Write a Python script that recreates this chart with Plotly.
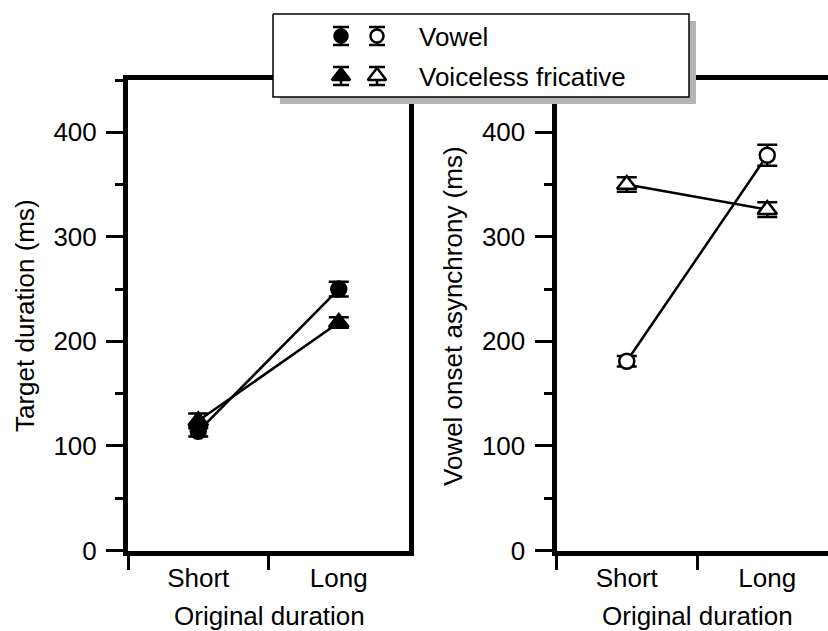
import plotly.graph_objects as go

# ---------------- data ----------------
categories = ["Short", "Long"]
vowel_dur = [114, 250]
vowel_dur_err = [5, 7]
fric_dur = [124, 218]
fric_dur_err = [7, 5]
vowel_async = [181, 378]
vowel_async_err = [5, 10]
fric_async = [350, 326]
fric_async_err = [7, 7]
y_ticks = [0, 100, 200, 300, 400]
legend_labels = ["Vowel", "Voiceless fricative"]
x_title = "Original duration"
y_title_left = "Target duration (ms)"
y_title_right = "Vowel onset asynchrony (ms)"

# ---------------- layout constants (pixels) ----------------
W, H = 828, 631
FONT = "Liberation Sans, Arial, sans-serif"
FS = 26


def fx(p):
    return p / W


def fy(p):
    return 1 - p / H


fig = go.Figure()


def add_series(xa, ya, y, err, symbol, size, filled):
    fig.add_trace(go.Scatter(
        x=categories, y=y, xaxis=xa, yaxis=ya, mode="lines+markers",
        line=dict(color="black", width=2.5),
        marker=dict(symbol=symbol, size=size,
                    color="black" if filled else "white",
                    line=dict(color="black", width=2.5)),
        error_y=dict(type="data", array=err, visible=True, color="black",
                     thickness=2.5, width=10),
        showlegend=False, hoverinfo="skip"))


add_series("x", "y", vowel_dur, vowel_dur_err, "circle", 15, True)
add_series("x", "y", fric_dur, fric_dur_err, "triangle-up", 17, True)
add_series("x2", "y2", vowel_async, vowel_async_err, "circle", 15, False)
add_series("x2", "y2", fric_async, fric_async_err, "triangle-up", 17, False)

# ---------------- custom legend (pixel space overlay) ----------------
LEG_BOX = (273, 14, 689, 97)
SHADOW = 7
lx0, ly0, lx1, ly1 = LEG_BOX
fig.add_trace(go.Scatter(
    x=[lx0 + SHADOW, lx1 + SHADOW, lx1 + SHADOW, lx0 + SHADOW, lx0 + SHADOW],
    y=[ly0 + SHADOW, ly0 + SHADOW, ly1 + SHADOW, ly1 + SHADOW, ly0 + SHADOW],
    xaxis="x3", yaxis="y3", mode="lines", fill="toself",
    fillcolor="#b4b4b4", line=dict(width=0, color="#b4b4b4"),
    showlegend=False, hoverinfo="skip"))
fig.add_trace(go.Scatter(
    x=[lx0, lx1, lx1, lx0, lx0], y=[ly0, ly0, ly1, ly1, ly0],
    xaxis="x3", yaxis="y3", mode="lines", fill="toself",
    fillcolor="white", line=dict(width=1.5, color="black"),
    showlegend=False, hoverinfo="skip"))

LEG_SYM_X = [341, 377]
LEG_ROW_Y = [36, 76]
LEG_TEXT_X = 417
for row, (sym, size) in enumerate([("circle", 13), ("triangle-up", 16)]):
    for col, filled in enumerate([True, False]):
        fig.add_trace(go.Scatter(
            x=[LEG_SYM_X[col]], y=[LEG_ROW_Y[row]], xaxis="x3", yaxis="y3",
            mode="markers",
            marker=dict(symbol=sym, size=size,
                        color="black" if filled else "white",
                        line=dict(color="black", width=2.5)),
            error_y=dict(type="constant", value=9, visible=True, color="black",
                         thickness=2.5, width=8),
            showlegend=False, hoverinfo="skip"))

annotations = []
for row, label in enumerate(legend_labels):
    annotations.append(dict(
        text=label, x=LEG_TEXT_X, y=LEG_ROW_Y[row] + 1, xref="x3", yref="y3",
        xanchor="left", yanchor="middle", showarrow=False,
        font=dict(family=FONT, size=FS, color="black")))

# axis titles
for xc in (269, 697):
    annotations.append(dict(
        text=x_title, x=xc, y=616, xref="x3", yref="y3",
        xanchor="center", yanchor="middle", showarrow=False,
        font=dict(family=FONT, size=FS, color="black")))
for xc, txt in ((25, y_title_left), (453, y_title_right)):
    annotations.append(dict(
        text=txt, x=xc, y=316, xref="x3", yref="y3", textangle=-90,
        xanchor="center", yanchor="middle", showarrow=False,
        font=dict(family=FONT, size=FS, color="black")))

# ---------------- axes ----------------
PLOT_TOP, PLOT_BOTTOM = 80, 550.5
common_y = dict(
    range=[0, 450], tickmode="array", tickvals=y_ticks,
    ticks="outside", ticklen=17, tickwidth=3, tickcolor="black",
    showline=True, linewidth=5, linecolor="black", mirror=True,
    showgrid=False, zeroline=False, automargin=False,
    minor=dict(dtick=50, tick0=0, ticks="outside", ticklen=8,
               tickwidth=3, tickcolor="black", showgrid=False),
    tickfont=dict(family=FONT, size=FS, color="black"),
    ticklabelstandoff=4,
    domain=[fy(PLOT_BOTTOM), fy(PLOT_TOP)], fixedrange=True)
common_x = dict(
    type="category", categoryorder="array", categoryarray=categories,
    tickson="boundaries", ticks="outside", ticklen=14, tickwidth=3,
    tickcolor="black", showline=True, linewidth=5, linecolor="black",
    mirror=True, showgrid=False, zeroline=False, automargin=False,
    tickfont=dict(family=FONT, size=FS, color="black"), fixedrange=True)

LEFT_X = (128, 409)
RIGHT_X0 = 556.5
cat_px = (LEFT_X[1] - LEFT_X[0]) / 2.0
right_hi = -0.5 + (W - RIGHT_X0) / cat_px

fig.update_layout(
    template="none",
    width=W, height=H, autosize=False,
    margin=dict(l=0, r=0, t=0, b=0, pad=0, autoexpand=False),
    paper_bgcolor="white", plot_bgcolor="rgba(0,0,0,0)",
    font=dict(family=FONT, size=FS, color="black"),
    showlegend=False,
    xaxis=dict(common_x, domain=[fx(LEFT_X[0]), fx(LEFT_X[1])], range=[-0.5, 1.5], anchor="y"),
    yaxis=dict(common_y, anchor="x"),
    xaxis2=dict(common_x, domain=[fx(RIGHT_X0), 1.0], range=[-0.5, right_hi], anchor="y2"),
    yaxis2=dict(common_y, anchor="x2"),
    xaxis3=dict(domain=[0, 1], range=[0, W], visible=False, fixedrange=True,
                anchor="y3", automargin=False),
    yaxis3=dict(domain=[0, 1], range=[H, 0], visible=False, fixedrange=True,
                anchor="x3", automargin=False),
    annotations=annotations,
)

fig.write_html("out.html")
